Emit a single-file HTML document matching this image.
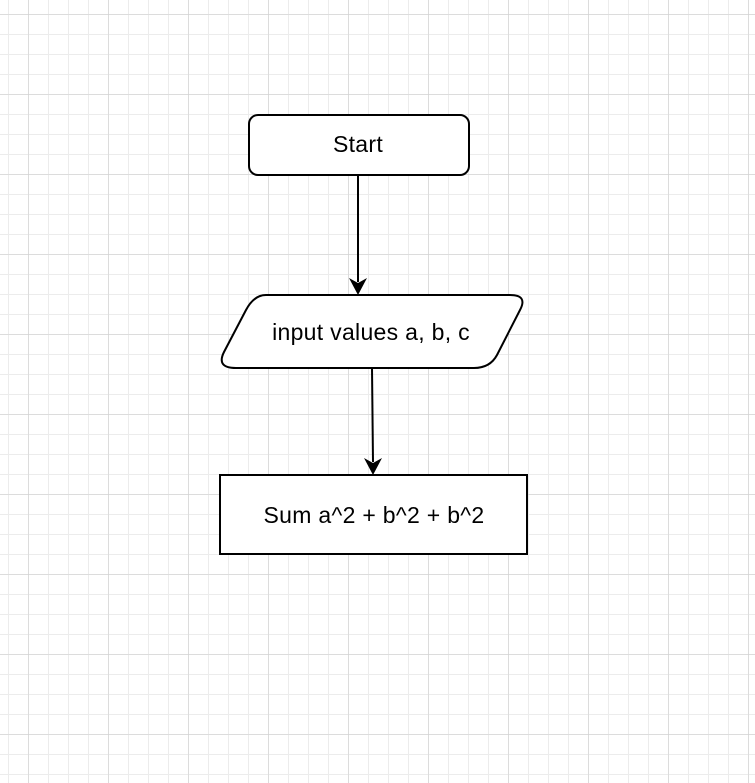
<!DOCTYPE html>
<html><head><style>
body{margin:0;width:755px;height:783px;overflow:hidden;background:#fff}
svg{display:block}
text{font-family:"Liberation Sans",Arial,sans-serif;font-size:23px;fill:#000;letter-spacing:0.3px}
</style></head><body>
<svg width="755" height="783" xmlns="http://www.w3.org/2000/svg">
<defs>
<pattern id="mi" width="20" height="20" patternUnits="userSpaceOnUse" x="8" y="14">
<path d="M0 0H20M0 0V20" stroke="#ececec" stroke-width="2" fill="none"/>
</pattern>
<pattern id="ma" width="80" height="80" patternUnits="userSpaceOnUse" x="28.5" y="14.5">
<path d="M0 0H80M0 0V80" stroke="#cccccc" stroke-width="1" fill="none"/>
</pattern>
</defs>
<rect width="755" height="783" fill="url(#mi)"/>
<rect width="755" height="783" fill="url(#ma)"/>
<rect x="249" y="115" width="220" height="60" rx="9" fill="#fff" stroke="#000" stroke-width="2"/>
<text x="358" y="152" text-anchor="middle">Start</text>
<line x1="358" y1="175" x2="358" y2="282" stroke="#000" stroke-width="2"/>
<path d="M349 278L358 295L367 278L358 283Z" fill="#000"/>
<path d="M266 295H510Q528 295 520 310L497 355Q490 368 474 368H236Q216 368 224 352L246 310Q254 295 266 295Z" fill="#fff" stroke="#000" stroke-width="2"/>
<text x="371" y="340" text-anchor="middle">input values a, b, c</text>
<line x1="372" y1="368" x2="373" y2="462" stroke="#000" stroke-width="2"/>
<path d="M364 458L373 475L382 458L373 463Z" fill="#000"/>
<rect x="220" y="475" width="307" height="79" fill="#fff" stroke="#000" stroke-width="2"/>
<text x="374" y="523" text-anchor="middle">Sum a^2 + b^2 + b^2</text>
</svg>
</body></html>
